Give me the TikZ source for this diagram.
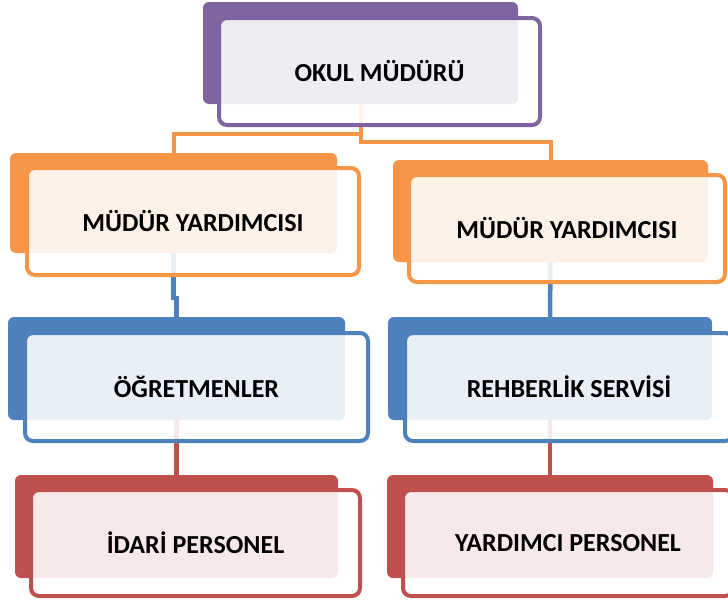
\documentclass[tikz,border=0pt]{standalone}
\usepackage{fontspec}
\setmainfont{Carlito}
\usetikzlibrary{backgrounds}

\definecolor{mor}{HTML}{8064A2}
\definecolor{turuncu}{HTML}{F79646}
\definecolor{mavi}{HTML}{4F81BD}
\definecolor{kirmizi}{HTML}{C0504D}

\tikzset{
  arka/.style={fill=#1,rounded corners=6pt,inner sep=0pt},
  kutu/.style={draw=#1,line width=4pt,fill=white,fill opacity=0.88,text opacity=1,
    rounded corners=8pt,inner sep=0pt,font=\fontsize{26}{30}\selectfont\bfseries},
  hat/.style={draw=#1,line width=4.5pt},
}

\begin{document}
\begin{tikzpicture}[x=1pt,y=-1pt]
\clip (0,0) rectangle (728,605);
% okul mudürü
\node[arka=mor,minimum width=315pt,minimum height=102pt] (mudB) at (360.5,53) {};
\node[kutu=mor,minimum width=321pt,minimum height=107pt] (mud) at (379.5,71.5) {OKUL MÜDÜRÜ};
% müdür yardımcıları
\node[arka=turuncu,minimum width=327pt,minimum height=100pt] (yrdLB) at (173.5,203) {};
\node[kutu=turuncu,minimum width=332pt,minimum height=107pt] (yrdL) at (193,221.5) {MÜDÜR YARDIMCISI};
\node[arka=turuncu,minimum width=315pt,minimum height=102pt] (yrdRB) at (550.5,211) {};
\node[kutu=turuncu,minimum width=316pt,minimum height=107pt] (yrdR) at (567,228.5) {MÜDÜR YARDIMCISI};
% öğretmenler, rehberlik
\node[arka=mavi,minimum width=337pt,minimum height=103pt] (ogrB) at (176.5,368.5) {};
\node[kutu=mavi,minimum width=343pt,minimum height=108pt] (ogr) at (196.5,387) {ÖĞRETMENLER};
\node[arka=mavi,minimum width=324pt,minimum height=103pt] (rehB) at (550,368.5) {};
\node[kutu=mavi,minimum width=328pt,minimum height=108pt] (reh) at (569,387) {REHBERLİK SERVİSİ};
% personel
\node[arka=kirmizi,minimum width=323pt,minimum height=103pt] (idrB) at (176.5,526.5) {};
\node[kutu=kirmizi,minimum width=329pt,minimum height=106pt] (idr) at (195.5,543) {İDARİ PERSONEL};
\node[arka=kirmizi,minimum width=326pt,minimum height=103pt] (yrpB) at (550,526.5) {};
\node[kutu=kirmizi,minimum width=330pt,minimum height=106pt] (yrp) at (568,543) {YARDIMCI PERSONEL};

\begin{scope}[on background layer]
\draw[hat=turuncu,line width=4pt] (mudB.south) -- ++(0,30) -| (yrdLB.north);
\draw[hat=turuncu,line width=4pt] (mudB.south) -- ++(0,38) -| (yrdRB.north);
\draw[hat=mavi] (yrdLB.south) -- ++(0,45) -| (ogrB.north);
\draw[hat=mavi] (yrdRB.south) -- (rehB.north);
\draw[hat=kirmizi] (ogrB.south) -- (idrB.north);
\draw[hat=kirmizi] (rehB.south) -- (yrpB.north);
\end{scope}
\end{tikzpicture}
\end{document}
